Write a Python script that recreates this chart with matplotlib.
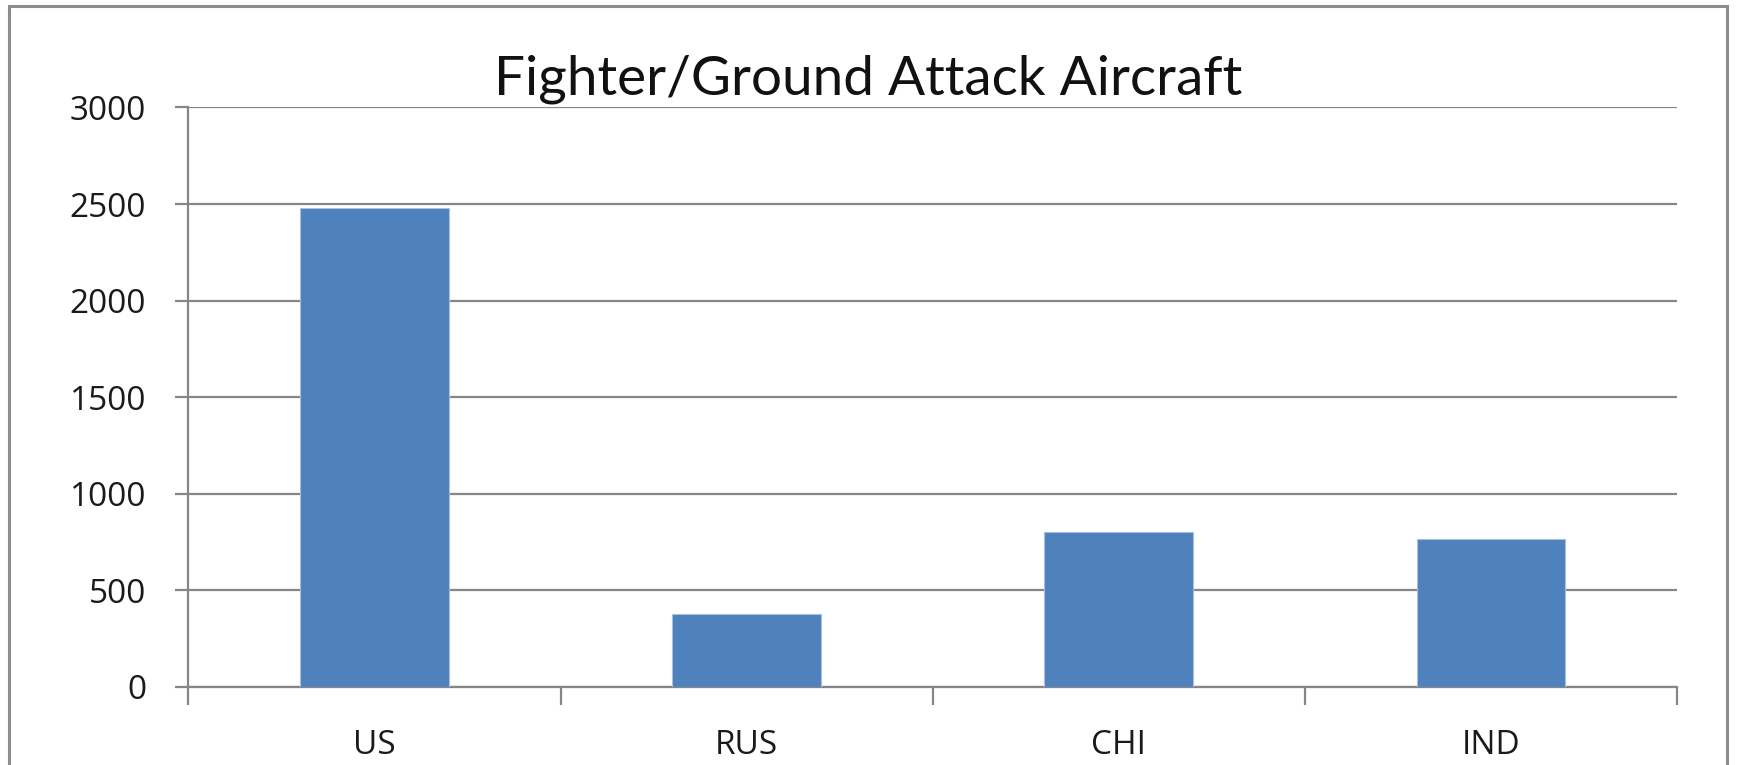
import numpy as np
import matplotlib.pyplot as plt
from matplotlib.patches import Rectangle

# data
countries = ['US', 'RUS', 'CHI', 'IND']
aircraft = [2480, 380, 800, 765]
y_ticks = [0, 500, 1000, 1500, 2000, 2500, 3000]

bar_color = '#4F81BD'
line_color = '#868686'

plt.rcParams['font.family'] = ['Open Sans', 'DejaVu Sans']

fig = plt.figure(figsize=(17.37, 7.65), dpi=100)
ax = fig.add_axes([0.1085, 0.102, 0.857, 0.7575])

x = np.arange(len(countries))
ax.bar(x, aircraft, width=0.4, color=bar_color, edgecolor='#A7C0DE', linewidth=0.8, zorder=3)

ax.set_xlim(-0.5, len(countries) - 0.5)
ax.set_ylim(0, 3000)
ax.set_yticks(y_ticks)
ax.set_yticklabels([str(v) for v in y_ticks])
ax.set_xticks(x)
ax.set_xticklabels(countries)
ax.set_xticks(np.arange(-0.5, len(countries), 1.0), minor=True)

ax.yaxis.grid(True, color=line_color, linewidth=1.6, zorder=0)
ax.set_axisbelow(True)

for side in ['top', 'right']:
    ax.spines[side].set_visible(False)
for side in ['left', 'bottom']:
    ax.spines[side].set_color(line_color)
    ax.spines[side].set_linewidth(1.6)

ax.tick_params(axis='y', which='major', length=9.5, width=1.6, color=line_color,
               labelsize=24, pad=21, labelcolor='#1a1a1a')
ax.tick_params(axis='x', which='major', length=0, labelsize=24, pad=30, labelcolor='#1a1a1a')
ax.tick_params(axis='x', which='minor', length=13, width=1.6, color=line_color)

fig.text(0.5, 0.876, 'Fighter/Ground Attack Aircraft', ha='center', va='baseline',
         fontsize=39.5, family=['Lato', 'DejaVu Sans'], color='#111111')

# outer chart border
fig.patches.append(Rectangle((9 / 1737, -0.05), 1718 / 1737, 1.05 - 6 / 765,
                             transform=fig.transFigure, fill=False,
                             edgecolor='#8C8C8C', linewidth=2.2, clip_on=False))

fig.savefig('out.png', dpi=100)
